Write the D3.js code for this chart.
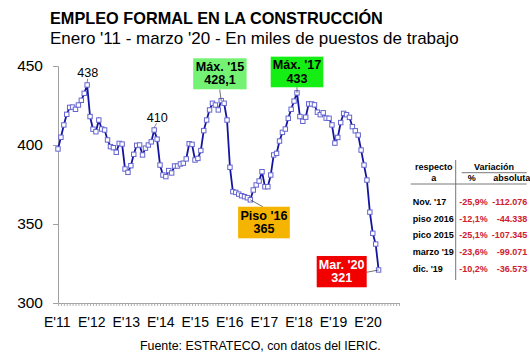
<!DOCTYPE html>
<html>
<head>
<meta charset="utf-8">
<script src="https://cdn.jsdelivr.net/npm/d3@7"></script>
<style>
  body { margin: 0; background: #fff; }
  text { font-family: "Liberation Sans", Arial, sans-serif; }
</style>
</head>
<body>
<svg id="chart" width="530" height="354"></svg>
<script>
// Empleo formal en la construccion, miles de puestos, ene 2011 - mar 2020 (mensual)
const empleo = [
  397.5, 404.9, 412.7, 419.4, 423.8, 424.0, 422.6, 425.3, 428.3, 432.7, 438.0, 418.0,
  410.0, 408.4, 415.8, 410.1, 409.5, 403.2, 399.0, 398.3, 395.4, 401.0, 400.6, 384.8,
  382.7, 386.9, 394.1, 399.8, 400.0, 393.7, 398.0, 400.0, 402.0, 409.5, 403.7, 387.3,
  381.0, 380.0, 383.8, 382.3, 386.7, 386.7, 388.0, 388.5, 391.2, 400.8, 400.4, 390.5,
  391.5, 396.5, 409.1, 415.8, 422.2, 426.4, 425.3, 422.2, 428.1, 426.4, 415.8, 385.9,
  370.5, 370.0, 368.9, 367.9, 367.3, 366.6, 365.3, 371.5, 374.7, 377.2, 383.1, 373.6,
  373.6, 381.0, 393.7, 394.7, 402.5, 408.0, 410.1, 416.9, 422.6, 427.8, 433.0, 418.0,
  415.0, 417.6, 426.0, 426.0, 425.4, 420.8, 419.2, 420.4, 417.0, 416.9, 412.7, 401.2,
  404.8, 414.2, 420.0, 419.2, 417.5, 411.6, 409.0, 406.3, 396.8, 387.3, 377.8, 357.5,
  344.1, 337.3, 320.9
];
const yearLabels = ["E'11", "E'12", "E'13", "E'14", "E'15", "E'16", "E'17", "E'18", "E'19", "E'20"];
const yTicks = [300, 350, 400, 450];

// etiquetas sobre la serie (indice de mes y texto)
const plainIdx = [10, 33];
const plainText = ["438", "410"];
const boxIdx = [56, 82, 66, 110];
const boxLines = [["Máx. '15", "428,1"], ["Máx. '17", "433"], ["Piso '16", "365"], ["Mar. '20", "321"]];

// tabla de variaciones
const tableRef = ["Nov. '17", "piso 2016", "pico 2015", "marzo '19", "dic. '19"];
const tablePct = ["-25,9%", "-12,1%", "-25,1%", "-23,6%", "-10,2%"];
const tableAbs = ["-112.076", "-44.338", "-107.345", "-99.071", "-36.573"];

const svg = d3.select("#chart");

const x = d3.scaleLinear().domain([0, 117]).range([58, 399]);
const y = d3.scaleLinear().domain([300, 450]).range([303, 66]);
const xYear = d3.scalePoint().domain(yearLabels).range([56.7, 367.5]);

// titulos
svg.append("text").attr("x", 50).attr("y", 23.5)
  .attr("font-size", 16.3).attr("font-weight", "bold").attr("fill", "#000")
  .text("EMPLEO FORMAL EN LA CONSTRUCCIÓN");
svg.append("text").attr("x", 50).attr("y", 43.5)
  .attr("font-size", 17).attr("fill", "#000")
  .text("Enero '11 - marzo '20 - En miles de puestos de trabajo");

// eje Y
const gy = svg.append("g").attr("transform", "translate(58,0)")
  .call(d3.axisLeft(y).tickValues(yTicks).tickSize(5).tickPadding(10));
gy.select(".domain").attr("stroke", "#a0a0a0");
gy.selectAll(".tick line").attr("stroke", "#a0a0a0");
gy.selectAll(".tick text").attr("font-size", 15.5).attr("fill", "#000")
  .style("font-family", "'Liberation Sans', Arial, sans-serif");

// eje X: marcas mensuales
const gx = svg.append("g").attr("transform", "translate(0,303)")
  .call(d3.axisBottom(x).tickValues(d3.range(0, 118)).tickSize(3).tickFormat(""));
gx.select(".domain").attr("stroke", "#a0a0a0");
gx.selectAll(".tick line").attr("stroke", "#b0b0b0");

// eje X: rotulos anuales
const gl = svg.append("g").attr("transform", "translate(0,303)")
  .call(d3.axisBottom(xYear).tickSize(0).tickPadding(14.5));
gl.select(".domain").remove();
gl.selectAll(".tick text").attr("font-size", 14).attr("fill", "#000")
  .style("font-family", "'Liberation Sans', Arial, sans-serif");

// serie
const line = d3.line().x((d, i) => x(i)).y(d => y(d));
svg.append("path").datum(empleo)
  .attr("fill", "none").attr("stroke", "#1414a0").attr("stroke-width", 1.8)
  .attr("d", line);

const ms = 4.4;
svg.append("g").selectAll("rect").data(empleo).join("rect")
  .attr("x", (d, i) => x(i) - ms / 2).attr("y", d => y(d) - ms / 2)
  .attr("width", ms).attr("height", ms)
  .attr("fill", "#fff").attr("stroke", "#6464d2").attr("stroke-width", 1);

// etiquetas simples
plainIdx.forEach((idx, k) => {
  const px = x(idx), py = y(empleo[idx]);
  const dx = k === 0 ? 0.7 : 3;
  const dy = k === 0 ? -7.7 : -8.3;
  svg.append("line").attr("x1", px).attr("y1", py - 2.5).attr("x2", px + dx * 0.8).attr("y2", py + dy + 1.5)
    .attr("stroke", "#333").attr("stroke-width", 0.6);
  svg.append("text").attr("x", px + dx).attr("y", py + dy)
    .attr("text-anchor", "middle").attr("font-size", 12.6).attr("fill", "#000")
    .text(plainText[k]);
});

// cajas de anotacion: [dx centro, dy arriba, ancho, alto, relleno, color texto, leader end dx, dy]
const boxStyle = [
  [-1.3, -42.3, 53.4, 31, "#74f274", "#000", -1.5, -11],
  [0, -36.2, 52.6, 30.6, "#14ee14", "#000", 0, -5.6],
  [13.6, 6.9, 51.7, 31.6, "#f5b400", "#000", 12.5, 6.9],
  [-36.9, -14, 50, 31.3, "#f20000", "#fff", -11.9, 2.3]
];
boxIdx.forEach((idx, k) => {
  const px = x(idx), py = y(empleo[idx]);
  const [dcx, dty, w, h, fill, tc, lx, ly] = boxStyle[k];
  const cx = px + dcx, top = py + dty;
  svg.append("line").attr("x1", px).attr("y1", py).attr("x2", px + lx).attr("y2", py + ly)
    .attr("stroke", "#333").attr("stroke-width", 0.7);
  svg.append("rect").attr("x", cx - w / 2).attr("y", top).attr("width", w).attr("height", h)
    .attr("fill", fill);
  boxLines[k].forEach((t, j) => {
    svg.append("text").attr("x", cx).attr("y", top + 12.8 + j * 13.2)
      .attr("text-anchor", "middle").attr("font-size", 12.6).attr("font-weight", "bold")
      .attr("fill", tc).text(t);
  });
});

// tabla
const tb = svg.append("g").attr("font-size", 9).attr("font-weight", "bold");
tb.append("text").attr("x", 433.8).attr("y", 169.5).attr("text-anchor", "middle").text("respecto");
tb.append("text").attr("x", 433.8).attr("y", 180.7).attr("text-anchor", "middle").text("a");
tb.append("text").attr("x", 494).attr("y", 169.5).attr("text-anchor", "middle").text("Variación");
tb.append("text").attr("x", 471.7).attr("y", 180.7).attr("text-anchor", "middle").text("%");
tb.append("text").attr("x", 511.7).attr("y", 180.7).attr("text-anchor", "middle").text("absoluta");
tb.append("line").attr("x1", 461.7).attr("x2", 526.7).attr("y1", 172.7).attr("y2", 172.7)
  .attr("stroke", "#555").attr("stroke-width", 0.8);
tb.append("line").attr("x1", 410.7).attr("x2", 526.7).attr("y1", 184).attr("y2", 184)
  .attr("stroke", "#555").attr("stroke-width", 0.8);
tb.append("line").attr("x1", 455.7).attr("x2", 455.7).attr("y1", 160).attr("y2", 280)
  .attr("stroke", "#777").attr("stroke-width", 1);
tableRef.forEach((r, k) => {
  const by = 205 + k * 16.65;
  tb.append("text").attr("x", 412.7).attr("y", by).attr("fill", "#000").text(r);
  tb.append("text").attr("x", 487.7).attr("y", by).attr("text-anchor", "end")
    .attr("fill", "#d02030").text(tablePct[k]);
  tb.append("text").attr("x", 527.3).attr("y", by).attr("text-anchor", "end")
    .attr("fill", "#d02030").text(tableAbs[k]);
});

// fuente
svg.append("text").attr("x", 140).attr("y", 349.5).attr("font-size", 12.4).attr("fill", "#000")
  .text("Fuente: ESTRATECO, con datos del IERIC.");
</script>
</body>
</html>
